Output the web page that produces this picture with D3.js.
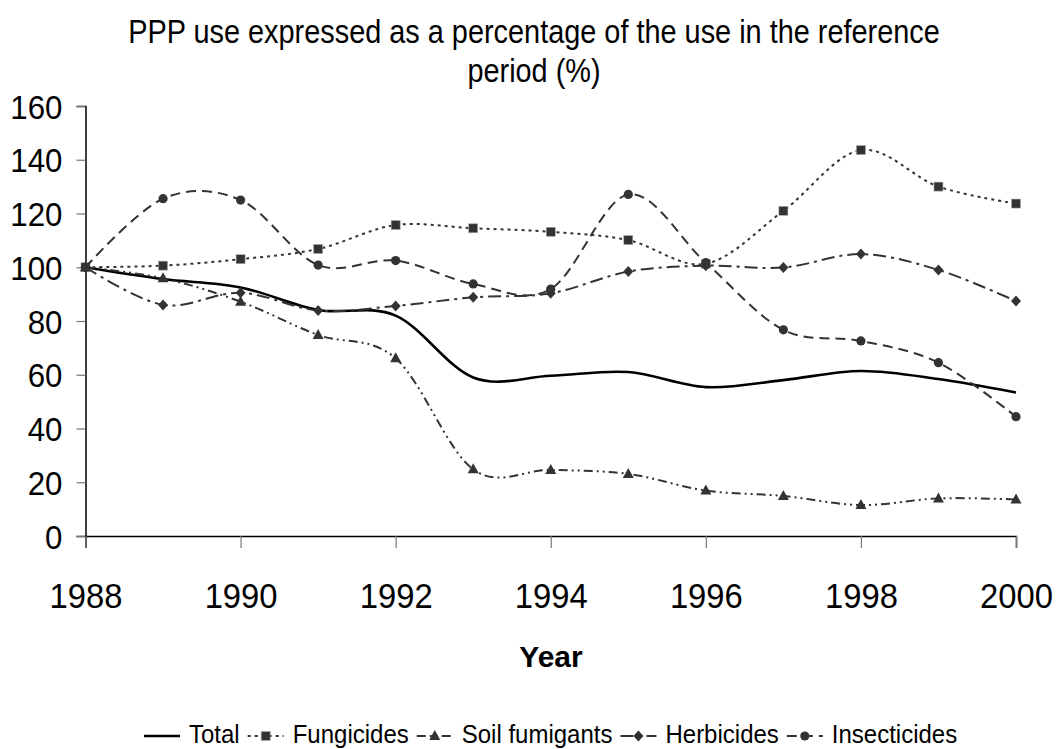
<!DOCTYPE html>
<html>
<head>
<meta charset="utf-8">
<script src="https://cdn.jsdelivr.net/npm/d3@7"></script>
<style>
  html, body { margin: 0; padding: 0; background: #fff; }
  svg { display: block; font-family: "Liberation Sans", Arial, sans-serif; }
</style>
</head>
<body>
<svg id="chart" width="1056" height="749"></svg>
<script>
// Years on the horizontal axis
const years = [1988, 1989, 1990, 1991, 1992, 1993, 1994, 1995, 1996, 1997, 1998, 1999, 2000];
const xTickYears = [1988, 1990, 1992, 1994, 1996, 1998, 2000];
const yTicks = [0, 20, 40, 60, 80, 100, 120, 140, 160];

// Use index (%) relative to the reference period
const total        = [100, 95.6, 92.5, 84.1, 82.0, 59.0, 59.6, 61.0, 55.4, 58.0, 61.4, 58.4, 53.4];
const fungicides   = [100, 100.6, 103, 106.8, 115.7, 114.5, 113.2, 110.1, 101.3, 121, 143.6, 130, 123.7];
const soilFumigants= [100, 95.9, 87.2, 74.8, 66.1, 24.8, 24.6, 23.1, 16.9, 14.9, 11.5, 14.0, 13.6];
const herbicides   = [100, 86.0, 90.5, 83.9, 85.6, 88.8, 90.3, 98.4, 100.6, 99.9, 104.9, 99.0, 87.4];
const insecticides = [100, 125.5, 125.0, 100.8, 102.5, 93.8, 91.9, 127.1, 101.7, 76.7, 72.6, 64.5, 44.4];

const seriesNames = ["Total", "Fungicides", "Soil fumigants", "Herbicides", "Insecticides"];
const seriesValues = [total, fungicides, soilFumigants, herbicides, insecticides];

// Drawing styles per series
const styles = [
  { color: "#000", width: 2.6, dash: null,              marker: null },
  { color: "#333", width: 2.0, dash: "3,4",             marker: "square" },
  { color: "#333", width: 2.0, dash: "9,4,2,4,2,4",     marker: "triangle" },
  { color: "#333", width: 2.0, dash: "13,5,3,5",        marker: "diamond" },
  { color: "#333", width: 2.0, dash: "10,6",            marker: "circle" }
];

const svg = d3.select("#chart");
const plotLeft = 85.5, plotRight = 1016, plotTop = 106, plotBottom = 536;

const x = d3.scaleLinear().domain([1988, 2000]).range([plotLeft, plotRight]);
const y = d3.scaleLinear().domain([0, 160]).range([plotBottom, plotTop]);

// Narrow text: draw at full height, then squeeze horizontally to the wanted width
function narrowText(parent, tx, ty, str, size, width, anchor) {
  const g = parent.append("g");
  const t = g.append("text").attr("font-size", size).attr("fill", "#000")
    .attr("text-anchor", anchor).text(str);
  const sx = width / t.node().getComputedTextLength();
  g.attr("transform", `translate(${tx},${ty}) scale(${sx},1)`);
  return g;
}

// Title (two centred lines)
narrowText(svg, 534, 43, "PPP use expressed as a percentage of the use in the reference", 34, 812, "middle");
narrowText(svg, 534, 82, "period (%)", 34, 133, "middle");

// Y axis
const ySqueeze = 0.92, yPad = 23;
const yAxis = svg.append("g").attr("transform", `translate(${plotLeft},0)`)
  .call(d3.axisLeft(y).tickValues(yTicks).tickSize(9).tickPadding(14).tickFormat(d3.format("d")));
yAxis.select(".domain").attr("stroke", "#000").attr("stroke-width", 1.5);
yAxis.selectAll(".tick line").attr("stroke", "#777").attr("stroke-width", 1.2);
yAxis.selectAll(".tick text").attr("font-size", 34).attr("fill", "#000")
  .attr("font-family", "Liberation Sans, Arial, sans-serif").attr("dy", "0.36em")
  .attr("x", -yPad / ySqueeze).attr("transform", `scale(${ySqueeze},1)`);

// X axis
const xSqueeze = 0.91;
const xAxis = svg.append("g").attr("transform", `translate(0,${plotBottom})`)
  .call(d3.axisBottom(x).tickValues(xTickYears).tickSize(12).tickPadding(34).tickFormat(d3.format("d")));
xAxis.select(".domain").attr("stroke", "#000").attr("stroke-width", 1.5);
xAxis.selectAll(".tick text").attr("font-size", 36).attr("fill", "#000")
  .attr("font-family", "Liberation Sans, Arial, sans-serif").attr("dy", "0.71em")
  .attr("transform", `scale(${xSqueeze},1)`);
xAxis.selectAll(".tick line").attr("stroke", "#777").attr("stroke-width", 1.2);

// Axis title
svg.append("text").attr("x", 551).attr("y", 667).attr("text-anchor", "middle")
  .attr("font-size", 30).attr("font-weight", "bold").attr("fill", "#000").text("Year");

// Marker drawing helper
function drawMarker(g, type, cx, cy, color) {
  if (type === "square") {
    g.append("rect").attr("x", cx - 4.5).attr("y", cy - 4.5).attr("width", 9).attr("height", 9)
      .attr("fill", color).attr("stroke", "#aaa").attr("stroke-width", 0.6);
  } else if (type === "triangle") {
    g.append("path").attr("d", `M${cx},${cy - 6}L${cx + 5.5},${cy + 4}L${cx - 5.5},${cy + 4}Z`).attr("fill", color);
  } else if (type === "diamond") {
    g.append("path").attr("d", `M${cx},${cy - 5.5}L${cx + 5},${cy}L${cx},${cy + 5.5}L${cx - 5},${cy}Z`).attr("fill", color);
  } else if (type === "circle") {
    g.append("circle").attr("cx", cx).attr("cy", cy).attr("r", 4.6).attr("fill", color);
  }
}

// Series lines (smoothed) and markers
const line = d3.line().x((d, i) => x(years[i])).y(d => y(d)).curve(d3.curveCardinal.tension(0));
const plot = svg.append("g");
seriesValues.forEach((vals, s) => {
  const st = styles[s];
  plot.append("path").datum(vals).attr("d", line)
    .attr("fill", "none").attr("stroke", st.color).attr("stroke-width", st.width)
    .attr("stroke-dasharray", st.dash).attr("stroke-linejoin", "round");
  if (st.marker) {
    const mg = plot.append("g");
    vals.forEach((v, i) => drawMarker(mg, st.marker, x(years[i]), y(v), st.color));
  }
});

// Legend: line sample, then label, laid out left to right in narrow type
const legend = svg.append("g");
const legendY = 736;
const sampleW = 36;
const legendSize = 25;
const legendSqueeze = 24 / legendSize;
let lx = 144;
seriesNames.forEach((name, s) => {
  const st = styles[s];
  legend.append("line").attr("x1", lx).attr("x2", lx + sampleW).attr("y1", legendY).attr("y2", legendY)
    .attr("stroke", st.color).attr("stroke-width", st.width).attr("stroke-dasharray", st.dash);
  if (st.marker) drawMarker(legend, st.marker, lx + sampleW / 2, legendY, st.color);
  const g = legend.append("g").attr("transform", `translate(${lx + sampleW + 9},${legendY + 7}) scale(${legendSqueeze},1)`);
  const t = g.append("text").attr("font-size", legendSize).attr("fill", "#000").text(name);
  const w = t.node().getComputedTextLength() * legendSqueeze;
  lx += sampleW + 9 + w + 8;
});
</script>
</body>
</html>
